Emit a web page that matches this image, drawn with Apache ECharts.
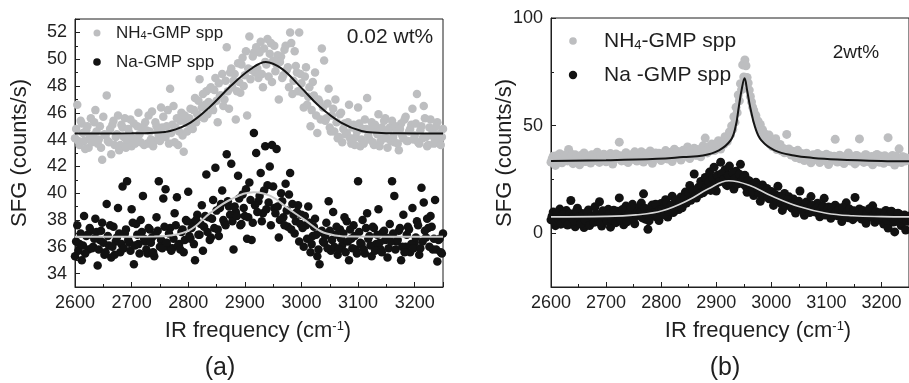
<!DOCTYPE html>
<html>
<head>
<meta charset="utf-8">
<script src="https://cdn.jsdelivr.net/npm/echarts@6/dist/echarts.min.js"></script>
<style>
  html, body { margin: 0; padding: 0; background: #fff; }
  #chart { width: 909px; height: 383px; }
</style>
</head>
<body>
<div id="chart"></div>
<script>
// IR frequency grids (cm^-1): two interleaved sweeps shared by both spectra
const freq = [
  2600,2604,2608,2612,2616,2620,2624,2628,2632,2636,
  2640,2644,2648,2652,2656,2660,2664,2668,2672,2676,
  2680,2684,2688,2692,2696,2700,2704,2708,2712,2716,
  2720,2724,2728,2732,2736,2740,2744,2748,2752,2756,
  2760,2764,2768,2772,2776,2780,2784,2788,2792,2796,
  2800,2804,2808,2812,2816,2820,2824,2828,2832,2836,
  2840,2844,2848,2852,2856,2860,2864,2868,2872,2876,
  2880,2884,2888,2892,2896,2900,2904,2908,2912,2916,
  2920,2924,2928,2932,2936,2940,2944,2948,2952,2956,
  2960,2964,2968,2972,2976,2980,2984,2988,2992,2996,
  3000,3004,3008,3012,3016,3020,3024,3028,3032,3036,
  3040,3044,3048,3052,3056,3060,3064,3068,3072,3076,
  3080,3084,3088,3092,3096,3100,3104,3108,3112,3116,
  3120,3124,3128,3132,3136,3140,3144,3148,3152,3156,
  3160,3164,3168,3172,3176,3180,3184,3188,3192,3196,
  3200,3204,3208,3212,3216,3220,3224,3228,3232,3236,
  3240,3244,3248
];
const freq2 = [
  2602,2606,2610,2614,2618,2622,2626,2630,2634,2638,
  2642,2646,2650,2654,2658,2662,2666,2670,2674,2678,
  2682,2686,2690,2694,2698,2702,2706,2710,2714,2718,
  2722,2726,2730,2734,2738,2742,2746,2750,2754,2758,
  2762,2766,2770,2774,2778,2782,2786,2790,2794,2798,
  2802,2806,2810,2814,2818,2822,2826,2830,2834,2838,
  2842,2846,2850,2854,2858,2862,2866,2870,2874,2878,
  2882,2886,2890,2894,2898,2902,2906,2910,2914,2918,
  2922,2926,2930,2934,2938,2942,2946,2950,2954,2958,
  2962,2966,2970,2974,2978,2982,2986,2990,2994,2998,
  3002,3006,3010,3014,3018,3022,3026,3030,3034,3038,
  3042,3046,3050,3054,3058,3062,3066,3070,3074,3078,
  3082,3086,3090,3094,3098,3102,3106,3110,3114,3118,
  3122,3126,3130,3134,3138,3142,3146,3150,3154,3158,
  3162,3166,3170,3174,3178,3182,3186,3190,3194,3198,
  3202,3206,3210,3214,3218,3222,3226,3230,3234,3238,
  3242,3246,3250
];

// (a) 0.02 wt% — NH4-GMP spp, SFG counts/s (sweep 1 / sweep 2)
const nh4Low = [
  44.1,46.6,43.6,45.2,43.9,44.7,43.4,45.6,44.3,46.2,
  43.7,45.0,42.5,44.4,47.3,43.8,42.9,45.4,44.2,45.8,
  43.6,44.9,45.6,43.9,44.5,43.5,45.2,44.0,46.0,43.8,
  44.8,45.3,43.7,44.6,46.1,43.9,45.0,44.3,46.4,45.7,
  44.2,46.2,47.8,45.1,43.8,45.6,44.6,46.0,43.1,45.3,
  45.2,46.3,44.8,47.1,45.9,48.5,46.4,45.6,47.6,46.8,
  47.9,46.2,48.6,45.3,47.3,48.9,47.0,50.9,46.3,49.3,
  48.4,45.5,49.7,47.5,50.1,48.8,45.8,51.7,49.2,50.5,
  50.9,48.6,51.3,47.9,49.8,51.5,50.4,48.3,51.0,49.6,
  47.0,50.2,48.8,51.0,49.4,52.0,47.4,50.6,49.0,52.0,
  48.2,46.4,49.4,47.2,45.0,48.3,49.0,44.5,46.8,50.8,
  49.9,45.6,47.8,44.6,46.3,47.0,44.1,45.9,43.8,45.2,
  44.5,46.6,43.7,45.1,44.2,46.4,43.5,44.8,45.5,47.1,
  44.0,45.3,43.6,44.7,45.9,43.9,44.4,45.6,43.4,44.9,
  45.4,43.8,44.6,43.2,45.2,44.1,45.7,43.9,44.8,46.3,
  44.3,47.4,43.7,45.0,46.5,44.2,43.6,45.5,44.6,43.9,
  45.3,43.7,44.2
];
const nh4Low2 = [
  44.8,43.9,45.4,44.5,43.3,45.0,44.2,43.8,45.3,44.6,
  44.0,43.4,45.7,44.3,43.9,44.8,45.1,43.6,44.4,43.2,
  45.1,44.2,43.4,44.8,45.5,44.1,43.7,45.0,44.4,44.9,
  43.6,44.7,45.8,44.0,43.5,45.3,44.6,43.9,44.9,44.2,
  45.0,43.7,44.5,46.5,44.9,43.6,45.4,44.3,45.8,44.6,
  45.6,44.9,46.2,45.3,46.9,45.7,47.4,46.6,45.9,47.8,
  46.6,47.7,46.9,48.2,47.3,46.5,48.4,47.6,49.0,47.9,
  48.9,47.6,48.3,49.6,48.0,50.6,49.3,48.5,50.2,49.0,
  49.3,50.5,48.9,50.8,49.6,48.7,51.2,49.9,49.1,50.3,
  49.8,48.6,50.7,49.2,47.9,51.2,48.4,49.5,47.6,48.9,
  47.5,48.7,46.6,47.9,46.2,47.3,45.8,47.0,45.5,46.4,
  45.4,46.7,44.9,45.8,44.6,45.3,44.2,46.0,44.8,44.4,
  45.3,44.1,44.9,43.6,44.6,45.2,44.0,43.7,44.8,44.3,
  44.8,43.8,45.1,44.4,43.5,44.9,45.4,44.1,44.7,43.9,
  44.2,45.0,43.7,44.8,44.3,45.5,43.9,44.6,45.1,44.0,
  45.2,43.8,44.7,44.1,45.6,43.5,44.9,44.3,43.7,45.0,
  44.4,43.6,44.8
];

// (a) 0.02 wt% — Na-GMP spp
const naLow = [
  35.3,37.6,36.2,35.0,38.3,36.8,35.8,37.2,36.0,38.1,
  34.6,36.5,37.8,35.4,39.2,36.1,35.2,37.5,36.4,38.9,
  35.6,40.5,37.0,40.9,36.3,38.8,34.7,37.7,36.2,38.0,
  39.8,36.4,35.5,37.3,36.7,35.3,38.2,40.9,36.5,39.6,
  40.3,36.0,37.4,35.9,38.5,39.7,36.2,37.1,35.6,38.0,
  40.1,36.6,37.8,35.0,38.4,36.9,39.1,37.5,41.4,38.2,
  36.7,39.5,41.9,37.3,38.9,40.2,37.8,42.9,39.0,42.2,
  35.8,38.6,41.3,37.6,39.9,38.3,36.6,40.8,36.5,44.5,
  43.0,39.4,41.5,38.5,43.5,40.6,42.0,43.6,38.9,43.3,
  36.7,40.0,38.2,40.7,37.5,41.5,39.2,37.0,38.6,36.4,
  38.4,36.0,37.6,39.0,35.6,36.8,38.1,35.3,34.7,37.2,
  36.3,37.8,39.4,35.7,38.6,36.9,35.4,37.3,36.1,38.2,
  37.9,35.0,36.6,37.6,35.8,40.9,36.3,38.0,35.5,38.5,
  36.8,35.3,37.4,36.2,38.8,35.8,37.1,36.5,35.2,37.7,
  40.9,39.8,36.4,37.2,35.0,38.4,36.0,37.5,35.6,38.9,
  36.3,37.9,35.4,40.4,39.3,36.7,37.4,38.3,35.8,39.5,
  34.9,36.6,35.5
];
const naLow2 = [
  36.4,35.7,37.0,36.1,35.5,36.9,37.4,35.9,36.6,37.1,
  35.8,37.2,36.3,35.6,36.8,37.6,36.0,35.4,36.7,37.0,
  36.2,35.9,37.3,36.5,35.7,37.8,36.1,36.9,35.5,37.1,
  36.6,35.8,37.4,36.3,35.6,36.9,37.2,36.0,35.9,37.5,
  36.3,37.0,35.7,36.6,37.6,36.1,35.8,37.3,36.5,37.9,
  36.8,37.4,36.2,38.0,36.9,37.7,35.7,38.3,37.1,36.5,
  38.1,37.4,38.7,36.8,39.2,38.0,37.6,39.4,38.4,37.9,
  39.0,38.3,39.6,37.7,38.9,40.3,38.2,39.5,37.8,39.1,
  38.6,39.8,37.9,40.2,38.8,39.3,37.6,40.5,38.5,39.0,
  38.0,39.4,37.6,38.7,39.9,37.3,38.4,37.9,39.1,37.7,
  37.4,38.3,36.6,37.8,36.2,37.5,36.9,35.8,37.1,36.4,
  36.8,35.9,37.2,36.5,36.0,37.5,35.8,36.6,37.0,35.6,
  36.4,37.3,35.9,36.8,35.5,37.1,36.2,35.8,37.4,36.6,
  36.1,37.5,35.7,36.9,36.3,35.6,37.2,36.7,35.9,36.4,
  37.0,35.8,36.5,37.4,36.0,35.6,36.9,37.3,36.2,35.9,
  36.7,37.6,35.9,36.4,37.2,38.1,36.0,37.5,36.6,35.8,
  36.5,35.6,37.0
];

// (b) 2 wt% — NH4-GMP spp
const nh4High = [
  33.0,35.8,31.5,34.6,36.9,32.7,35.1,33.9,38.9,34.2,
  32.3,36.4,34.8,31.8,35.5,37.3,33.4,35.9,32.6,36.2,
  34.1,37.6,32.9,35.3,36.7,33.2,34.9,37.0,32.1,35.7,
  36.3,42.3,33.6,35.2,37.4,32.8,36.0,34.4,37.8,33.5,
  35.6,37.9,33.1,36.5,34.3,38.2,32.5,36.8,35.0,37.2,
  33.8,36.1,38.4,34.5,37.5,33.3,39.0,35.4,36.9,34.0,
  38.6,35.8,40.1,34.7,37.7,39.5,36.2,38.1,35.5,40.6,
  44.2,37.3,39.8,41.5,38.4,40.9,43.0,39.1,42.4,44.8,
  42.6,47.0,49.8,54.1,58.5,64.2,69.5,78.2,80.5,72.4,
  66.5,61.0,57.2,54.6,52.0,50.5,48.1,46.2,44.8,45.6,
  42.4,40.8,43.9,39.5,41.2,38.6,37.4,45.9,39.1,36.3,
  37.8,35.2,38.5,34.6,36.9,33.8,37.2,35.0,32.7,36.4,
  34.3,37.0,32.8,35.6,33.9,36.7,31.9,35.1,34.0,43.6,
  33.1,36.2,34.6,32.4,35.8,37.3,33.5,35.4,32.2,36.0,
  43.8,34.1,32.9,36.5,33.7,35.2,31.8,34.8,36.6,33.0,
  35.7,32.5,34.3,44.4,33.2,36.1,31.7,34.9,39.2,32.8,
  35.4,33.6,34.0
];
const nh4High2 = [
  34.5,33.2,36.0,34.8,32.9,35.4,36.3,33.6,35.0,36.6,
  34.0,35.6,33.1,36.1,34.4,33.3,35.8,34.7,36.4,33.8,
  35.2,33.5,36.2,34.6,35.9,33.9,36.5,35.0,34.2,36.8,
  34.9,36.0,35.3,33.7,36.6,34.5,35.7,36.9,34.1,35.5,
  36.2,34.7,35.8,37.0,34.3,36.4,35.1,37.3,34.8,36.0,
  35.3,37.1,36.0,34.9,37.6,35.8,36.6,38.0,35.4,37.2,
  36.4,37.8,35.9,38.5,37.0,36.3,38.9,37.4,39.2,38.0,
  38.8,40.2,39.0,41.0,38.6,41.8,40.4,42.0,41.3,43.2,
  44.5,45.8,48.3,51.6,56.0,61.5,66.7,72.6,77.8,69.8,
  63.5,58.6,55.4,52.3,49.6,47.6,45.0,43.7,42.4,41.3,
  40.3,41.7,38.9,40.0,38.3,39.4,37.6,38.8,37.0,38.1,
  36.5,37.7,35.8,36.9,35.2,36.3,34.8,36.0,35.5,34.4,
  35.8,33.9,36.2,34.6,35.3,33.4,36.0,34.1,35.7,33.6,
  34.8,35.9,33.3,34.5,36.4,33.8,35.0,34.2,36.1,33.5,
  35.3,33.7,36.3,34.4,33.2,35.6,34.0,36.2,33.6,35.1,
  34.6,36.0,33.4,35.2,34.1,33.0,35.8,34.3,33.5,35.5,
  33.9,35.0,34.2
];

// (b) 2 wt% — Na-GMP spp
const naHigh = [
  6.2,9.8,3.5,8.4,11.2,5.0,7.7,10.5,4.1,15.2,
  8.9,3.0,11.6,6.4,9.2,2.6,7.1,10.8,4.7,8.0,
  12.3,5.3,14.6,3.3,9.5,6.8,11.1,2.8,8.6,5.6,
  10.2,16.4,7.3,3.9,12.6,6.0,9.9,13.4,4.4,11.5,
  8.2,14.0,18.3,6.5,1.8,10.9,13.1,7.8,11.9,5.9,
  13.8,9.1,15.6,7.5,12.4,17.2,10.3,14.9,11.0,16.8,
  13.3,19.1,15.8,22.2,17.9,27.5,16.3,21.4,24.0,18.8,
  25.9,21.0,28.4,23.2,30.7,19.6,27.0,33.0,24.8,29.5,
  22.1,31.2,26.3,20.5,28.8,24.6,32.0,22.9,26.9,19.0,
  24.3,21.6,17.5,23.7,19.9,14.8,22.4,18.2,20.8,16.0,
  19.4,12.9,17.6,21.8,15.3,10.6,18.5,14.2,16.9,12.1,
  15.9,9.4,13.7,19.6,11.8,8.3,14.5,10.7,17.0,12.8,
  9.8,13.9,7.6,11.4,16.2,8.8,12.2,6.9,10.4,13.0,
  8.1,11.7,5.4,9.6,14.1,7.2,10.0,6.3,16.6,9.0,
  11.3,6.6,8.7,4.6,10.1,7.4,12.7,5.1,9.3,6.1,
  8.5,4.3,10.6,2.4,7.0,9.7,0.6,5.8,8.9,3.6,
  6.5,1.5,7.9
];
const naHigh2 = [
  7.9,5.3,9.3,6.6,4.2,8.7,6.1,3.8,9.0,7.2,
  5.8,10.1,7.5,4.4,8.3,6.0,9.6,3.6,7.8,5.1,
  9.0,6.9,4.8,10.4,7.4,5.5,8.9,6.3,10.7,4.9,
  8.4,6.2,11.0,7.9,5.3,9.5,12.1,6.8,8.7,10.0,
  9.6,7.1,11.6,8.8,5.7,12.3,9.4,13.5,8.0,10.9,
  11.3,8.5,14.1,10.1,13.0,9.6,15.5,12.7,14.6,11.8,
  16.2,14.0,18.5,15.3,19.8,17.0,20.6,18.2,21.9,19.4,
  21.5,23.8,19.9,25.6,22.4,26.8,23.9,27.7,25.1,22.6,
  26.7,23.5,28.1,25.3,22.8,27.4,24.1,25.9,21.7,24.5,
  22.0,19.3,23.1,21.2,18.4,20.5,17.1,19.7,16.5,18.8,
  16.4,18.1,15.0,17.2,13.8,16.0,12.8,15.4,13.5,11.6,
  13.2,11.0,14.8,12.3,10.2,13.6,11.5,9.6,12.9,10.5,
  11.6,9.1,10.8,12.5,8.4,11.1,9.7,12.0,8.9,10.2,
  10.6,8.6,11.9,7.8,9.9,11.2,8.2,10.4,7.5,9.3,
  8.8,10.5,7.0,9.2,11.4,7.6,8.3,10.0,6.4,9.5,
  7.3,9.0,6.0,8.1,10.2,5.2,7.7,9.3,4.7,6.8,
  8.4,5.5,7.2
];

// Fitted curves: [frequency, SFG]
const fitNh4Low = [[2600,44.45],[2700,44.47],[2740,44.52],[2768,44.64],[2804,45.27],[2839,46.47],[2875,48.0],[2910,49.25],[2937,49.8],[2965,49.3],[2999,47.9],[3032,46.47],[3070,45.27],[3106,44.64],[3134,44.52],[3170,44.47],[3250,44.45]];
const fitNaLow = [[2600,36.75],[2740,36.76],[2768,36.84],[2804,37.29],[2839,38.53],[2875,39.53],[2916,40.08],[2946,39.78],[2975,38.9],[3005,38.03],[3034,37.16],[3060,36.85],[3090,36.76],[3250,36.75]];
const fitNh4High = [[2600,33.5],[2700,33.9],[2793,34.6],[2840,35.4],[2876,36.1],[2905,38.5],[2926,43.1],[2935,49.3],[2941,58.7],[2946,66.5],[2951.5,72.0],[2956,66.5],[2961.6,58.7],[2970.5,49.3],[2982,43.1],[3006,38.5],[3041,36.1],[3076,35.0],[3120,34.3],[3200,33.6],[3250,33.4]];
const fitNaHigh = [[2600,7.6],[2700,7.8],[2754,8.5],[2802,10.4],[2850,15.4],[2885,20.5],[2923,24.4],[2960,22.3],[3000,17.4],[3050,12.4],[3100,9.3],[3148,8.1],[3200,7.7],[3250,7.6]];

const FONT = '"Liberation Sans", Arial, sans-serif';
const INK = '#1f1f1f';
const GREY_DOT = '#bdbec0';
const BLACK_DOT = '#121212';

const pairs = (xs, ys) => xs.map((f, i) => [f, ys[i]]);

function xAxisCfg(gridIndex) {
  return {
    type: 'value', gridIndex, min: 2600, max: 3250,
    minInterval: 100, maxInterval: 100, splitNumber: 6,
    axisLine: { show: true, onZero: false, lineStyle: { color: INK, width: 1 } },
    axisTick: { show: true, inside: true, length: 5, lineStyle: { color: INK } },
    minorTick: { show: true, splitNumber: 2, length: 3, lineStyle: { color: INK } },
    splitLine: { show: false },
    axisLabel: { fontFamily: FONT, fontSize: 18, color: INK, margin: 7, showMaxLabel: false,
                 formatter: v => String(v) }
  };
}
function yAxisCfg(gridIndex, min, max, step) {
  return {
    type: 'value', gridIndex, min, max,
    minInterval: step, maxInterval: step, splitNumber: Math.round((max - min) / step),
    axisLine: { show: true, onZero: false, lineStyle: { color: INK, width: 1 } },
    axisTick: { show: true, inside: true, length: 5, lineStyle: { color: INK } },
    minorTick: { show: true, splitNumber: 2, length: 3, lineStyle: { color: INK } },
    splitLine: { show: false },
    axisLabel: { fontFamily: FONT, fontSize: 18, color: INK, margin: 8, showMinLabel: false,
                 showMaxLabel: max % step === 0, formatter: v => String(v) }
  };
}

function scatter(name, idx, ys, ys2, color, size) {
  return {
    name, type: 'scatter', xAxisIndex: idx, yAxisIndex: idx,
    data: pairs(freq, ys).concat(pairs(freq2, ys2)), symbol: 'circle', symbolSize: size,
    itemStyle: { color, opacity: 1 }, silent: true, clip: true, animation: false,
    large: false
  };
}
function fit(idx, pts, color, width) {
  return {
    type: 'line', xAxisIndex: idx, yAxisIndex: idx, data: pts,
    smooth: 0.4, showSymbol: false, symbol: 'none', clip: true,
    lineStyle: { color, width }, silent: true, animation: false, z: 5
  };
}

const txt = (x, y, text, size, extra) => ({
  type: 'text', x, y, silent: true, z: 100,
  style: Object.assign({
    text, fontFamily: FONT, fontSize: size, fill: INK,
    align: 'left', verticalAlign: 'middle'
  }, extra || {})
});
const dot = (cx, cy, r, color) => ({
  type: 'circle', shape: { cx, cy, r }, style: { fill: color }, silent: true, z: 100
});

const subRich = s => ({ sub: { fontFamily: FONT, fontSize: s, fill: INK, verticalAlign: 'bottom' } });
const supRich = s => ({ sup: { fontFamily: FONT, fontSize: s, fill: INK, verticalAlign: 'top' } });

const chart = echarts.init(document.getElementById('chart'), null, { renderer: 'canvas' });
chart.setOption({
  backgroundColor: '#ffffff',
  animation: false,
  grid: [
    { left: 75, top: 19, width: 368, height: 268, show: true, borderColor: INK, borderWidth: 1, backgroundColor: 'transparent' },
    { left: 551, top: 18, width: 367, height: 269, show: true, borderColor: INK, borderWidth: 1, backgroundColor: 'transparent' }
  ],
  xAxis: [xAxisCfg(0), xAxisCfg(1)],
  yAxis: [yAxisCfg(0, 33, 53, 2), yAxisCfg(1, -25, 100, 50)],
  series: [
    scatter('NH4-GMP spp', 0, nh4Low, nh4Low2, GREY_DOT, 8.5),
    scatter('Na-GMP spp', 0, naLow, naLow2, BLACK_DOT, 8.5),
    fit(0, fitNh4Low, '#151515', 2),
    fit(0, fitNaLow, '#c9c9c9', 2),
    scatter('NH4-GMP spp', 1, nh4High, nh4High2, GREY_DOT, 9),
    scatter('Na -GMP spp', 1, naHigh, naHigh2, BLACK_DOT, 9),
    fit(1, fitNh4High, '#151515', 2),
    fit(1, fitNaHigh, '#d6d6d6', 1.6)
  ],
  graphic: [
    // panel (a) legend and label
    dot(97, 33, 3.5, GREY_DOT),
    txt(116, 33, 'NH{sub|4}-GMP spp', 17, { rich: subRich(11) }),
    dot(97, 62, 3.8, BLACK_DOT),
    txt(116, 62, 'Na-GMP spp', 17),
    txt(390, 37, '0.02 wt%', 21, { align: 'center' }),
    // panel (b) legend and label
    dot(573, 41, 3.8, GREY_DOT),
    txt(604, 41, 'NH{sub|4}-GMP spp', 21, { rich: subRich(13) }),
    dot(573, 75, 4.2, BLACK_DOT),
    txt(604, 75, 'Na -GMP spp', 21),
    txt(856, 53, '2wt%', 19, { align: 'center' }),
    // axis titles
    Object.assign(txt(20, 153, 'SFG (counts/s)', 22, { align: 'center' }), { rotation: Math.PI / 2 }),
    Object.assign(txt(505, 153, 'SFG (counts/s)', 22, { align: 'center' }), { rotation: Math.PI / 2 }),
    txt(258, 331, 'IR frequency (cm{sup|-1})', 22, { align: 'center', rich: supRich(13) }),
    txt(758, 331, 'IR frequency (cm{sup|-1})', 22, { align: 'center', rich: supRich(13) }),
    // panel captions
    txt(220, 368, '(a)', 25, { align: 'center' }),
    txt(725, 368, '(b)', 25, { align: 'center' })
  ]
});
</script>
</body>
</html>
